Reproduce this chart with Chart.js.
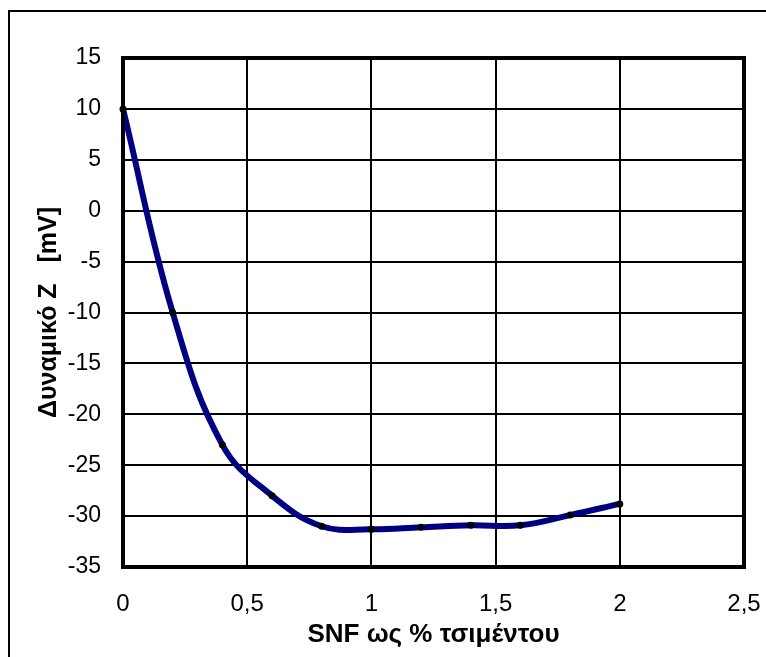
<!DOCTYPE html>
<html>
<head>
<meta charset="utf-8">
<script src="https://cdn.jsdelivr.net/npm/chart.js@4.4.1/dist/chart.umd.min.js"></script>
<style>
  html, body { margin: 0; padding: 0; background: #fff; }
  #wrap { width: 766px; height: 657px; position: relative; }
</style>
</head>
<body>
<div id="wrap"><canvas id="c" width="766" height="657"></canvas></div>
<script>
const snfPercent = [0, 0.2, 0.4, 0.6, 0.8, 1.0, 1.2, 1.4, 1.6, 1.8, 2.0];
const zetaPotential = [10, -10, -23, -28, -31, -31.3, -31.1, -30.9, -30.9, -29.9, -28.8];
const xTitle = 'SNF ως % τσιμέντου';
const yTitle = 'Δυναμικό Z   [mV]';

const points = snfPercent.map((x, i) => ({ x: x, y: zetaPotential[i] }));

const framePlugin = {
  id: 'frame',
  beforeDraw(chart) {
    const ctx = chart.ctx;
    ctx.save();
    ctx.fillStyle = '#fff';
    ctx.fillRect(0, 0, chart.width, chart.height);
    ctx.strokeStyle = '#000';
    ctx.lineWidth = 2;
    ctx.beginPath();
    ctx.moveTo(9, chart.height);
    ctx.lineTo(9, 11);
    ctx.lineTo(chart.width, 11);
    ctx.stroke();
    ctx.restore();
  },
  afterDraw(chart) {
    const a = chart.chartArea;
    const ctx = chart.ctx;
    ctx.save();
    ctx.strokeStyle = '#000';
    ctx.lineWidth = 4;
    ctx.strokeRect(a.left, a.top, a.right - a.left, a.bottom - a.top);
    ctx.restore();
  }
};

new Chart(document.getElementById('c'), {
  type: 'line',
  data: {
    datasets: [{
      data: points,
      borderColor: '#000080',
      borderWidth: 6,
      tension: 0.4,
      pointRadius: 3.5,
      pointBackgroundColor: '#000',
      pointBorderColor: '#000',
      pointBorderWidth: 0,
      fill: false,
      clip: false
    }]
  },
  options: {
    responsive: false,
    animation: false,
    devicePixelRatio: 1,
    layout: { padding: { top: 58, right: 22, left: 0, bottom: 0 } },
    plugins: { legend: { display: false }, tooltip: { enabled: false } },
    scales: {
      x: {
        type: 'linear',
        min: 0, max: 2.5,
        afterFit(scale) { scale.height = 90; scale.paddingRight = 0; scale.paddingLeft = 0; },
        grid: { color: '#000', lineWidth: 2, drawTicks: false },
        border: { display: false },
        ticks: {
          stepSize: 0.5,
          padding: 23,
          color: '#000',
          font: { family: 'Liberation Sans, Arial, sans-serif', size: 24 },
          callback: v => String(v).replace('.', ',')
        },
        title: {
          display: true,
          text: xTitle,
          color: '#000',
          padding: { top: 0, bottom: 7 },
          font: { family: 'Liberation Sans, Arial, sans-serif', size: 26, weight: 'bold' }
        }
      },
      y: {
        type: 'linear',
        min: -35, max: 15,
        afterFit(scale) { scale.width = 123; scale.paddingTop = 0; scale.paddingBottom = 0; },
        grid: { color: '#000', lineWidth: 2, drawTicks: false },
        border: { display: false },
        ticks: {
          stepSize: 5,
          padding: 22,
          color: '#000',
          font: { family: 'Liberation Sans, Arial, sans-serif', size: 23 }
        },
        title: {
          display: true,
          text: yTitle,
          color: '#000',
          padding: { top: 34, bottom: 0 },
          font: { family: 'Liberation Sans, Arial, sans-serif', size: 25, weight: 'bold' }
        }
      }
    }
  },
  plugins: [framePlugin]
});
</script>
</body>
</html>
